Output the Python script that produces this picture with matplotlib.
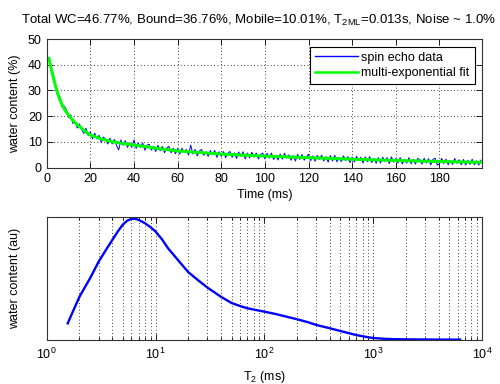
import numpy as np
import matplotlib
matplotlib.use('Agg')
import matplotlib.pyplot as plt
from matplotlib.ticker import LogLocator, NullFormatter, NullLocator

plt.rcParams['font.family'] = ['Liberation Sans', 'DejaVu Sans']
plt.rcParams['mathtext.default'] = 'regular'
plt.rcParams['font.size'] = 9

# spin echo data, one echo per ms (t = 1..199)
echo_time = np.arange(1, 200)
echo_data = [42.0, 39.3, 34.5, 32.8, 28.0, 27.6, 23.7, 24.0, 22.6, 19.4,
             20.5, 17.2, 18.0, 15.4, 17.0, 14.9, 13.3, 15.3, 12.5, 13.9,
             11.2, 13.4, 11.2, 12.6, 9.8, 11.9, 11.1, 9.2, 11.5, 9.2,
             11.0, 8.7, 6.9, 10.8, 8.7, 10.5, 7.9, 9.6, 7.9, 10.8,
             7.5, 9.6, 7.9, 9.6, 6.8, 8.8, 9.1, 6.8, 8.1, 6.3,
             8.7, 6.6, 8.3, 5.8, 7.6, 8.3, 5.8, 7.6, 5.4, 7.5,
             5.3, 7.6, 5.9, 7.1, 4.9, 8.8, 5.3, 7.1, 4.6, 6.5,
             7.1, 4.8, 6.2, 4.4, 6.7, 5.0, 6.7, 4.0, 6.2, 4.4,
             6.3, 3.9, 5.6, 6.3, 4.0, 5.8, 3.6, 6.1, 4.4, 6.2,
             3.4, 5.7, 3.8, 6.0, 4.1, 5.7, 3.4, 5.1, 5.7, 3.4,
             5.6, 3.7, 5.7, 3.2, 4.7, 3.0, 5.3, 3.3, 5.6, 3.7,
             5.0, 2.9, 4.7, 2.6, 5.2, 3.2, 5.1, 2.9, 4.2, 5.2,
             2.7, 4.6, 2.5, 4.8, 3.2, 4.9, 2.6, 4.3, 2.2, 4.7,
             2.6, 4.8, 2.3, 3.9, 2.4, 4.6, 2.8, 4.3, 2.0, 4.1,
             2.2, 4.4, 2.8, 4.1, 1.8, 4.2, 2.3, 4.3, 2.0, 3.6,
             1.7, 3.9, 1.8, 4.1, 2.4, 3.9, 1.6, 4.2, 2.1, 3.6,
             1.8, 3.9, 1.4, 3.3, 1.8, 3.9, 1.5, 3.3, 1.4, 3.6,
             3.1, 1.4, 3.7, 1.8, 3.5, 1.1, 3.2, 3.7, 1.0, 1.5,
             3.6, 1.6, 3.3, 1.1, 2.8, 1.3, 3.6, 1.7, 3.1, 1.1,
             3.2, 1.0, 2.9, 1.3, 3.3, 1.1, 2.7, 1.0, 2.9]

# multi-exponential fit
fit_time = [1, 2, 3, 4, 5, 6, 7, 8, 9, 10, 12, 14, 16, 18, 20, 25, 30, 35, 40,
            50, 60, 70, 80, 90, 100, 120, 140, 160, 180, 199]
fit_vals = [42.5, 38.6, 35.2, 31.9, 28.9, 26.6, 24.6, 22.9, 21.6, 20.5, 18.4,
            16.7, 15.3, 13.9, 12.7, 11.2, 10.1, 9.4, 8.8, 7.6, 6.5, 5.9, 5.3,
            4.9, 4.5, 3.9, 3.3, 2.8, 2.4, 2.1]

# T2 distribution
t2 = [1.56, 1.8, 2, 2.25, 2.5, 2.75, 3, 3.5, 4, 4.5, 5, 5.5, 6, 6.5, 7, 8, 9,
      10, 11.5, 13, 15, 17.5, 20, 25, 30, 35, 40, 50, 60, 70, 85, 100, 125,
      150, 200, 250, 300, 400, 500, 600, 700, 850, 1000, 1250, 1500, 2000,
      3000, 4000, 6300]
t2_amp = [0.135, 0.26, 0.35, 0.43, 0.50, 0.57, 0.635, 0.73, 0.81, 0.88, 0.935,
          0.968, 0.982, 0.983, 0.974, 0.947, 0.915, 0.88, 0.815, 0.745, 0.68,
          0.61, 0.55, 0.48, 0.425, 0.385, 0.35, 0.30, 0.275, 0.257, 0.242,
          0.23, 0.212, 0.195, 0.168, 0.145, 0.122, 0.095, 0.073, 0.055, 0.04,
          0.026, 0.016, 0.01, 0.007, 0.005, 0.004, 0.003, 0.003]

title = 'Total WC=46.77%, Bound=36.76%, Mobile=10.01%, T$_{2ML}$=0.013s, Noise ~ 1.0%'

fig = plt.figure(figsize=(5, 3.84), dpi=100)
ax1 = fig.add_axes([0.0934, 0.5633, 0.8706, 0.3351])
ax2 = fig.add_axes([0.0934, 0.1146, 0.8706, 0.3211])

grid_kw = dict(color='black', linestyle=(0, (1, 3)), linewidth=0.6)

ax1.plot(echo_time, echo_data, color='#0000ff', lw=0.7, label='spin echo data')
ax1.plot(fit_time, fit_vals, color='#00ff00', lw=2.2, label='multi-exponential fit')
ax1.set_xlim(0, 199.5)
ax1.set_ylim(0, 50)
ax1.set_xticks(np.arange(0, 181, 20))
ax1.set_yticks(np.arange(0, 51, 10))
ax1.grid(True, **grid_kw)
ax1.set_xlabel('Time (ms)', labelpad=3)
ax1.set_ylabel('water content (%)')
fig.text(0.516, 0.947, title, ha='center', va='center', fontsize=9.5)
leg = ax1.legend(loc='upper right', fancybox=False, framealpha=1, edgecolor='black',
                 handlelength=3.4, handletextpad=0.3, fontsize=9,
                 borderaxespad=0.6, labelspacing=0.3)
leg.get_frame().set_linewidth(0.8)
leg.get_lines()[0].set_linewidth(1.0)
leg.get_lines()[1].set_linewidth(1.8)

ax2.plot(t2, t2_amp, color='#0000ff', lw=1.7)
ax2.set_xscale('log')
ax2.set_xlim(1, 1e4)
ax2.set_ylim(0, 1)
ax2.yaxis.set_major_locator(NullLocator())
ax2.xaxis.set_major_locator(LogLocator(base=10, numticks=10))
ax2.xaxis.set_minor_locator(LogLocator(base=10, subs=np.arange(2, 10), numticks=20))
ax2.xaxis.set_minor_formatter(NullFormatter())
ax2.grid(True, which='both', axis='x', **grid_kw)
ax2.set_xlabel('T$_2$ (ms)', labelpad=5)
ax2.set_ylabel('water content (au)')

for ax in (ax1, ax2):
    ax.tick_params(which='both', direction='in', top=True, right=True, labelsize=9)
    ax.tick_params(which='major', length=4, width=0.6)
    ax.tick_params(which='minor', length=2, width=0.6)
    ax.yaxis.set_label_coords(-0.06, 0.5)
    for s in ax.spines.values():
        s.set_linewidth(0.8)
        s.set_color('#333333')
ax2.tick_params(axis='x', which='major', pad=5)

fig.savefig('out.png', dpi=100)
